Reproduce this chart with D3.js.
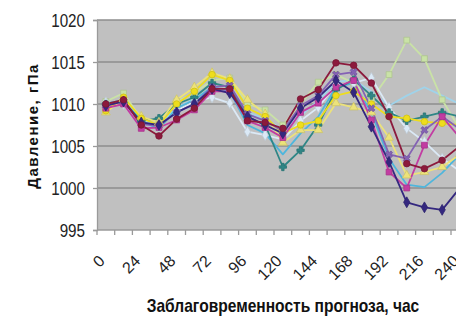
<!DOCTYPE html>
<html>
<head>
<meta charset="utf-8">
<script src="https://cdn.jsdelivr.net/npm/d3@7"></script>
<style>
  html, body { margin: 0; padding: 0; background: #fff; }
  svg { display: block; }
</style>
</head>
<body>
<svg id="chart" width="456" height="320"></svg>
<script>
// Lead time of the forecast, hours
const leadTimes = [0, 12, 24, 36, 48, 60, 72, 84, 96, 108, 120, 132, 144, 156, 168, 180, 192, 204, 216, 228, 240];
const tickLabels = [0, 24, 48, 72, 96, 120, 144, 168, 192, 216, 240];
const yTicks = [995, 1000, 1005, 1010, 1015, 1020];

// Sea-level pressure forecasts (hPa), one array per forecast run
const runMaroon  = [1010.0, 1010.5, 1007.5, 1006.2, 1008.2, 1009.5, 1011.8, 1011.8, 1008.0, 1007.8, 1007.1, 1010.6, 1011.7, 1014.9, 1014.6, 1012.5, 1008.5, 1002.9, 1002.3, 1003.3, 1005.0];
const runNavy    = [1009.8, 1010.3, 1007.8, 1007.5, 1009.0, 1010.0, 1011.8, 1011.3, 1008.5, 1007.5, 1006.5, 1009.5, 1010.8, 1012.8, 1011.4, 1007.3, 1003.1, 998.3, 997.7, 997.4, 1000.0];
const runMagenta = [1009.5, 1010.0, 1007.1, 1007.2, 1008.1, 1009.3, 1011.5, 1011.5, 1008.0, 1007.2, 1006.0, 1009.0, 1010.1, 1012.0, 1012.8, 1008.1, 1001.9, 1000.0, 1005.1, 1008.5, 1006.0];
const runPale    = [1009.0, 1010.6, 1008.5, 1007.8, 1010.5, 1012.0, 1013.7, 1013.0, 1010.5, 1008.8, 1005.4, 1006.9, 1006.9, 1010.1, 1009.6, 1009.0, 1006.0, 1001.5, 1001.9, 1002.5, 1004.0];
const runYellow  = [1009.2, 1010.8, 1008.3, 1007.5, 1010.0, 1011.5, 1013.5, 1012.8, 1009.5, 1008.5, 1006.5, 1007.5, 1008.0, 1011.0, 1011.5, 1010.0, 1008.5, 1008.3, 1007.9, 1007.7, 1007.5];
const runGreen   = [1010.3, 1011.3, 1008.2, 1008.0, 1010.3, 1011.3, 1012.8, 1013.1, 1010.0, 1009.3, 1007.5, 1010.0, 1012.6, 1013.5, 1012.5, 1010.5, 1013.5, 1017.6, 1015.4, 1010.5, 1007.0];
const runTeal    = [1010.0, 1010.2, 1008.0, 1008.3, 1010.0, 1010.8, 1012.5, 1012.0, 1008.5, 1007.5, 1002.5, 1004.5, 1007.5, 1011.7, 1012.9, 1011.0, 1009.0, 1008.0, 1008.5, 1009.0, 1008.5];
const runIce     = [1010.2, 1010.0, 1007.8, 1007.3, 1009.2, 1010.3, 1010.8, 1010.1, 1006.7, 1006.3, 1005.8, 1008.0, 1009.6, 1012.3, 1012.5, 1013.1, 1009.6, 1007.1, 1005.5, 1003.5, 1002.0];
const runCyan    = [1010.0, 1010.5, 1008.0, 1007.0, 1009.5, 1010.5, 1012.0, 1011.5, 1007.5, 1006.5, 1004.0, 1006.5, 1008.5, 1012.0, 1012.5, 1009.0, 1003.5, 1000.4, 1000.1, 1001.8, 1004.0];
const runSky     = [1010.1, 1010.4, 1008.1, 1007.6, 1009.6, 1010.6, 1011.9, 1011.7, 1009.0, 1008.2, 1007.0, 1008.6, 1010.4, 1012.6, 1012.9, 1011.5, 1009.8, 1011.0, 1012.0, 1011.0, 1010.0];
const runPurple  = [1009.8, 1010.3, 1007.6, 1007.4, 1009.0, 1010.0, 1012.0, 1012.2, 1008.8, 1008.0, 1006.8, 1009.8, 1011.0, 1013.5, 1013.8, 1009.5, 1004.0, 1003.5, 1006.9, 1008.5, 1007.0];

const series = [
  { values: runSky,     color: "#9fd3ea", symbol: null },
  { values: runGreen,   color: "#c9e2a6", symbol: d3.symbolSquare },
  { values: runIce,     color: "#dbe9f6", symbol: d3.symbolDiamond },
  { values: runCyan,    color: "#4fb6dc", symbol: null },
  { values: runTeal,    color: "#2f8686", symbol: d3.symbolCross },
  { values: runPale,    color: "#ece27a", symbol: d3.symbolTriangle },
  { values: runYellow,  color: "#eedd1c", symbol: d3.symbolCircle },
  { values: runPurple,  color: "#8462b4", symbol: d3.symbolCross, rot: 45 },
  { values: runMagenta, color: "#c23ca2", symbol: d3.symbolSquare },
  { values: runNavy,    color: "#34287f", symbol: d3.symbolDiamond },
  { values: runMaroon,  color: "#8c1a3c", symbol: d3.symbolCircle }
];

const FONT = "Liberation Sans, Arial, sans-serif";
const NARROW = 0.8; // horizontal squeeze for the narrow lettering

const svg = d3.select("#chart");
const plot = { left: 97, top: 20, bottom: 230, step: 17.7 };
plot.right = plot.left + plot.step * leadTimes.length;

const x = d3.scaleBand().domain(leadTimes).range([plot.left, plot.right]).padding(0);
const y = d3.scaleLinear().domain([995, 1020]).range([plot.bottom, plot.top]);
const cx = d => x(d) + x.bandwidth() / 2;

// Plot area
svg.append("rect")
  .attr("x", plot.left).attr("y", plot.top)
  .attr("width", plot.right - plot.left).attr("height", plot.bottom - plot.top)
  .attr("fill", "#c0c0c0");

// Horizontal gridlines
svg.append("g").selectAll("line").data(yTicks.slice(1)).join("line")
  .attr("x1", plot.left).attr("x2", plot.right)
  .attr("y1", d => y(d)).attr("y2", d => y(d))
  .attr("stroke", "#8e8e8e").attr("stroke-width", 1.3);

// Y axis
const yAxis = svg.append("g")
  .attr("transform", `translate(${plot.left},0)`)
  .call(d3.axisLeft(y).tickValues(yTicks).tickSize(4).tickFormat(d3.format("d")));
yAxis.select(".domain").attr("stroke", "#9a9a9a").attr("stroke-width", 1.3);
yAxis.selectAll(".tick line").attr("stroke", "#9a9a9a").attr("stroke-width", 1.3);
yAxis.selectAll(".tick text")
  .attr("fill", "#222")
  .attr("font-family", FONT)
  .attr("font-size", 19)
  .attr("x", -12 / NARROW)
  .attr("transform", `scale(${NARROW},1)`)
  .attr("dy", "0.36em");

// X axis line and category boundary ticks
svg.append("line")
  .attr("x1", plot.left).attr("x2", plot.right)
  .attr("y1", plot.bottom).attr("y2", plot.bottom)
  .attr("stroke", "#9a9a9a").attr("stroke-width", 1.3);
svg.append("g").selectAll("line").data(leadTimes).join("line")
  .attr("x1", d => x(d)).attr("x2", d => x(d))
  .attr("y1", plot.bottom).attr("y2", plot.bottom + 5)
  .attr("stroke", "#9a9a9a").attr("stroke-width", 1.3);

// X tick labels, rotated
svg.append("g").selectAll("text").data(tickLabels).join("text")
  .attr("transform", d => `translate(${cx(d)},${plot.bottom + 32}) rotate(-45)`)
  .attr("text-anchor", "end")
  .attr("fill", "#222")
  .attr("font-family", FONT)
  .attr("font-size", 16)
  .text(d => d);

// Lines and markers
const line = d3.line().x((v, i) => cx(leadTimes[i])).y(v => y(v));
const layer = svg.append("g");
series.forEach(s => {
  layer.append("path")
    .attr("d", line(s.values))
    .attr("fill", "none")
    .attr("stroke", s.color)
    .attr("stroke-width", 1.8)
    .attr("stroke-linejoin", "round");
});
series.forEach(s => {
  if (!s.symbol) return;
  const sym = d3.symbol().type(s.symbol).size(s.symbol === d3.symbolCross ? 30 : 34);
  layer.append("g").selectAll("path").data(s.values).join("path")
    .attr("transform", (v, i) => `translate(${cx(leadTimes[i])},${y(v)}) rotate(${s.rot || 0})`)
    .attr("d", sym)
    .attr("fill", s.color)
    .attr("stroke", d3.color(s.color).darker(0.4))
    .attr("stroke-width", 0.8);
});

// Axis titles
svg.append("text")
  .attr("transform", "translate(283,312) scale(0.865,1)")
  .attr("text-anchor", "middle")
  .attr("font-family", FONT)
  .attr("font-weight", "bold")
  .attr("font-size", 18)
  .attr("fill", "#111")
  .text("Заблаговременность прогноза, час");

svg.append("text")
  .attr("transform", "translate(38,126) rotate(-90)")
  .attr("text-anchor", "middle")
  .attr("font-family", FONT)
  .attr("font-weight", "bold")
  .attr("font-size", 15)
  .attr("letter-spacing", 1.5)
  .attr("fill", "#111")
  .text("Давление, гПа");
</script>
</body>
</html>
